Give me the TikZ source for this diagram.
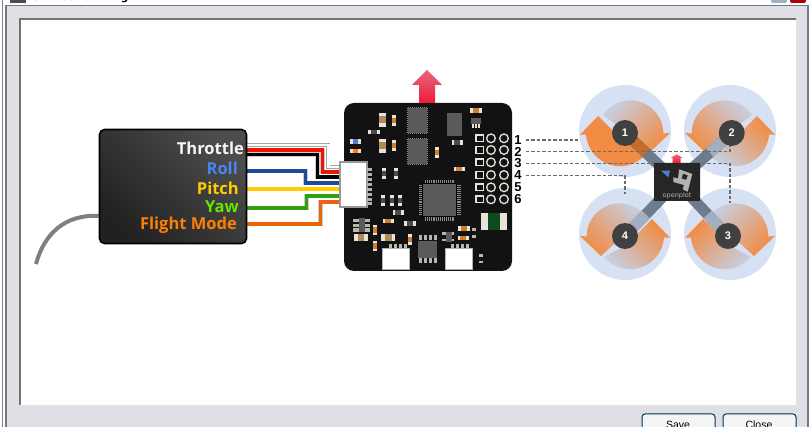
\documentclass[tikz,border=0pt]{standalone}
\usepackage{fontspec}
\setmainfont{DejaVu Sans}
\newfontfamily\arialish{Liberation Sans}
\newfontfamily\rxfont{Open Sans}
\usetikzlibrary{calc,shapes.misc}
\pgfdeclarelayer{back}
\pgfsetlayers{back,main}

\definecolor{winbg}{HTML}{DFDFE5}
\definecolor{pale}{HTML}{D6E1F3}
\definecolor{blade}{HTML}{F28C45}
\definecolor{fade}{HTML}{C6CFE2}
\definecolor{armdark}{HTML}{6D7B8D}
\definecolor{armlight}{HTML}{A3AEC1}
\definecolor{armorange}{HTML}{C46C2C}
\definecolor{tan}{HTML}{B08A5A}
\definecolor{amber}{HTML}{D0802A}
\definecolor{capend}{HTML}{E6E4DA}
\definecolor{chipgray}{HTML}{5A5A5A}
\definecolor{arrowtop}{HTML}{E8687A}
\definecolor{arrowbot}{HTML}{EE1A3C}
\definecolor{txroll}{HTML}{4A86F0}
\definecolor{txpitch}{HTML}{FFCC00}
\definecolor{txyaw}{HTML}{66E600}
\definecolor{txflight}{HTML}{FF7F00}
\definecolor{wblue}{HTML}{1F4A9C}
\definecolor{wgreen}{HTML}{30A010}
\definecolor{worange}{HTML}{EC640A}
\definecolor{wred}{HTML}{EE1500}
\definecolor{btnline}{HTML}{00305F}
\definecolor{logoblue}{HTML}{4D7FD9}
\definecolor{inductor}{HTML}{0F4A1E}

\tikzset{
  rxlabel/.style={font=\rxfont\bfseries\fontsize{16.5}{16.5}\selectfont,anchor=east,inner sep=0pt},
  hub/.style={circle,fill=black!75,text=white,minimum size=26pt,inner sep=0pt,
    font=\arialish\bfseries\fontsize{11}{11}\selectfont},
  pinlabel/.style={font=\arialish\bfseries\fontsize{13}{13}\selectfont,inner sep=1pt},
  wire/.style={line width=3.6pt,draw=#1,preaction={draw=white!80!black,line width=4.8pt}},
  probe/.style={draw=black!58,line width=1.8pt,dash pattern=on 3.5pt off 2pt},
  pins/.style={draw=black!45,line width=1.3pt,dash pattern=on 1pt off 1pt},
  cpupins/.style={draw=black!45,line width=3.5pt,dash pattern=on 1pt off 0.9pt},
  headerpin/.style={draw=capend,line width=1.3pt},
  arm/.style={line width=11pt,draw=#1},
  fadeNW/.style={top color=fade,bottom color=blade,shading angle=45},
  bladeNW/.style={top color=blade,bottom color=fade,shading angle=45},
  fadeNE/.style={top color=fade,bottom color=blade,shading angle=-45},
  bladeNE/.style={top color=blade,bottom color=fade,shading angle=-45},
}

% one rotor: centre x, centre y, mirror, style of lower blade, style of upper blade
\newcommand{\rotorblades}[5]{
  \begin{scope}[shift={(#1,#2)},xscale=#3]
    \path[fill=pale] (-46,0) arc[start angle=180,end angle=-180,radius=46];
    \path[#5] (-22,-16) arc[start angle=214,end angle=360,radius=33] -- (45,2) -- (24,22) -- (0,0) -- cycle;
    \path[#4] (-45,3.7) -- (-27,-15) -- (0,12) -- (21,23)
      arc[start angle=40,end angle=178,radius=34] -- (-39,3.7) -- cycle;
  \end{scope}
}
% surface parts, in board units (3 per pixel)
\newcommand{\smdh}[5]{
  \fill[capend] (#1-#3/2,#2-#4/2) rectangle (#1+#3/2,#2+#4/2);
  \fill[#5] (#1-#3/4,#2-#4/2) rectangle (#1+#3/4,#2+#4/2);
}
\newcommand{\smdv}[5]{
  \fill[capend] (#1-#3/2,#2-#4/2) rectangle (#1+#3/2,#2+#4/2);
  \fill[#5] (#1-#3/2,#2-#4/4) rectangle (#1+#3/2,#2+#4/4);
}
\newcommand{\qfn}[4]{
  \draw[pins] (#1+1,#2-1.5) -- (#3-1,#2-1.5);
  \draw[pins] (#1+1,#4+1.5) -- (#3-1,#4+1.5);
  \draw[pins] (#1-1.5,#2+1) -- (#1-1.5,#4-1);
  \draw[pins] (#3+1.5,#2+1) -- (#3+1.5,#4-1);
  \fill[chipgray] (#1,#2) rectangle (#3,#4);
}

\begin{document}
\begin{tikzpicture}[x=1pt,y=-1pt]
\useasboundingbox (0,0) rectangle (812,427);

% receiver
\node[rounded corners=5pt,draw=black,line width=1.6pt,minimum width=147pt,minimum height=114pt,
  top color=black!70,bottom color=black!87,shading angle=-45] (rx) at (173,186.5) {};
\node[rxlabel,text=white!96!black] (throttle) at (244,148) {Throttle};
\node[rxlabel,text=txroll] (roll) at (238,168) {Roll};
\node[rxlabel,text=txpitch] (pitch) at (239,188) {Pitch};
\node[rxlabel,text=txyaw] (yaw) at (239,207) {Yaw};
\node[rxlabel,text=txflight] (flight) at (237,225) {Flight Mode};

% flight controller board
\node[rounded corners=10pt,fill=black!93,minimum width=168pt,minimum height=168pt,inner sep=0pt] (board) at (428,187) {};
\node[fill=white,draw=black!40,line width=1.4pt,minimum width=27pt,minimum height=45pt,inner sep=0pt] (conn) at (353.5,184.5) {};

\begin{scope}[shift={(335,60)},x=0.3333pt,y=-0.3333pt]
  \qfn{219}{143}{277}{220}
  \qfn{219}{236}{277}{312}
  \fill[chipgray] (337,160) rectangle (380,228);
  % main processor
  \draw[cpupins] (270,364) -- (358,364);
  \draw[cpupins] (270,477) -- (358,477);
  \draw[cpupins] (256,376) -- (256,465);
  \draw[cpupins] (372,376) -- (372,465);
  \draw[fill=chipgray,draw=black,line width=0.8pt] (263,370) rectangle (365,470);
  % capacitors and resistors
  \foreach \x/\y in {143/180,143/257}{\smdv{\x}{\y}{22}{42}{tan}}
  \foreach \x/\y in {177/181,177/257,306/277,120/510,120/558,226/538}{\smdv{\x}{\y}{12}{32}{amber}}
  \foreach \x/\y in {147/340,184/340,145/422,170/422,195/422}{\smdv{\x}{\y}{12}{32}{black!70}}
  \foreach \x/\y in {117/216,367/248,190/458,225/491}{\smdh{\x}{\y}{34}{13}{black!70}}
  \foreach \x/\y in {423/152,373/328,160/484,387/506,385/534}{\smdh{\x}{\y}{34}{13}{amber}}
  \foreach \x/\y in {78/534,160/534}{\smdh{\x}{\y}{42}{21}{tan}}
  \smdh{62}{245}{33}{13}{logoblue}
  \smdh{62}{274}{33}{13}{txflight}
  \foreach \x/\y in {418/508,418/530,437/587,437/606}{\fill[capend!80!black] (\x-6,\y-4) rectangle (\x+6,\y+4);}
  % small regulators
  \foreach \x in {414,423,432}{\fill[capend] (\x-3,193) rectangle (\x+3,204);}
  \fill[chipgray] (408,175) rectangle (438,192);
  \foreach \y in {482,497,510}{\fill[capend!80!black] (55,\y-5) rectangle (105,\y+5);}
  \fill[chipgray] (71,474) rectangle (90,517);
  \foreach \y in {520,540}{\fill[capend!80!black] (322,\y-4) rectangle (358,\y+4);}
  \fill[chipgray] (332,516) rectangle (350,547);
  % eight pin part
  \foreach \x in {257,272,287,301}{\fill[capend!80!black] (\x-5,526) rectangle (\x+5,540);
    \fill[capend!80!black] (\x-5,594) rectangle (\x+5,608);}
  \fill[chipgray] (248,542) rectangle (307,593);
  % connector pins
  \foreach \y in {330,345,360,375,390,405,420,432}{\fill[black!30] (96,\y-5) rectangle (112,\y+4);}
  \foreach \x in {167,182,197,212,352,367,382,397}{\fill[capend!80!black] (\x-5,552) rectangle (\x+5,564);}
  % servo connectors
  \foreach \x in {143,330}{\draw[fill=white,draw=black!30,line width=0.8pt] (\x,565) rectangle (\x+81,627);}
  % output header
  \foreach \y in {235,270,307,345,382,418}{
    \draw[headerpin] (423,\y-10) rectangle (445,\y+10);
    \draw[headerpin] (468,\y) circle[radius=13];
    \draw[headerpin] (507,\y) circle[radius=13];}
  % inductor
  \fill[capend] (437,460) rectangle (517,510);
  \fill[inductor] (460,460) rectangle (495,510);
\end{scope}

\node[pinlabel] (n1) at (518,140) {1};
\node[pinlabel] (n2) at (518,151.5) {2};
\node[pinlabel] (n3) at (518,163.5) {3};
\node[pinlabel] (n4) at (518,175.5) {4};
\node[pinlabel] (n5) at (518,187) {5};
\node[pinlabel] (n6) at (518,199) {6};

% up arrow of the board
\shade[top color=arrowtop,bottom color=arrowbot] (427,70) -- (442,85) -- (435,85) -- (435,103)
  -- (419,103) -- (419,85) -- (412,85) -- cycle;

% quad centre and motors
\node[hub] (h1) at (625,133) {1};
\node[hub] (h2) at (731.7,133) {2};
\node[hub] (h3) at (728,236) {3};
\node[hub] (h4) at (625,236) {4};
\node[chamfered rectangle,chamfered rectangle xsep=4pt,chamfered rectangle ysep=4pt,fill=black!85,
  minimum width=46pt,minimum height=38pt,inner sep=0pt] (body) at (677,182) {};
\fill[logoblue] (661,170.7) -- (670,170.7) -- (668.3,177.3) -- cycle;
\fill[black!30,even odd rule] (679.3,169.3) -- (692.3,174) -- (687.7,191.7) -- (682.7,189.3) -- (684,185)
  -- (673.3,182) -- (673.3,177.3) -- (678,178.5) -- cycle
  (683,173.5) -- (688,175.5) -- (686,180) -- (681.5,178.5) -- cycle;
\node[text=black!30,inner sep=0pt,font=\fontsize{6.5}{6.5}\selectfont] (brand) at (677,196) {openplot};
\shade[top color=arrowtop,bottom color=arrowbot] (676.7,154.3) -- (682.7,158) -- (680.7,158) -- (680.7,163)
  -- (672.7,163) -- (672.7,158) -- (670.7,158) -- cycle;

\begin{pgfonlayer}{back}
  % window frame
  \fill[white] (0,0) rectangle (812,427);
  \fill[winbg] (6,6) rectangle (808,427);
  \draw[black!50] (2,0) -- (2,427);
  \draw[armdark,line width=1.5pt] (6,427) -- (6,5.5) -- (808,5.5) -- (808,427);
  \fill[black!70] (10,0) rectangle (26,3);
  \node[anchor=base west,inner sep=0pt,font=\bfseries\fontsize{10.5}{10.5}\selectfont] (title) at (31,1) {Connection Diagram};
  \fill[armlight,rounded corners=2pt] (771,-4) rectangle (787,3);
  \fill[red!70!black,rounded corners=2pt] (790,-4) rectangle (806,3);
  \fill[white] (20,19) rectangle (796,405);
  \draw[black!55,line width=1.6pt] (20,405) -- (20,19) -- (796,19);
  \draw[capend] (796,19) -- (796,405) -- (20,405);
  \draw[draw=btnline,fill=white!96!black,rounded corners=3pt,line width=1pt] (642,414) rectangle (715,440);
  \draw[draw=btnline,fill=white!96!black,rounded corners=3pt,line width=1pt] (723,414) rectangle (796,440);
  \node[inner sep=0pt,font=\arialish\fontsize{10.5}{10.5}\selectfont] (save) at (678,425) {Save};
  \node[inner sep=0pt,font=\arialish\fontsize{10.5}{10.5}\selectfont] (close) at (759,425) {Close};

  % antenna
  \coordinate (tip) at (36,264);
  \draw[black!50,line width=4pt] (rx.west |- 0,216) .. controls (65,214) and (44,234) .. (tip);

  % receiver wires
  \draw[draw=black!35,double=white,double distance=2.4pt,line width=0.9pt] (rx.east |- 0,145) -- ++(81,0) |- (conn.west |- 0,167);
  \draw[wire=wred] (rx.east |- 0,150) -- ++(75,0) |- (conn.west |- 0,172);
  \draw[wire=black] (rx.east |- 0,154.5) -- ++(70,0) |- (conn.west |- 0,177);
  \draw[wire=wblue] (rx.east |- 0,171) -- ++(58,0) |- (conn.west |- 0,183);
  \draw[wire=txpitch] (rx.east |- 0,189) -- (conn.west |- 0,189);
  \draw[wire=wgreen] (rx.east |- 0,208) -- ++(59,0) |- (conn.west |- 0,196);
  \draw[wire=worange] (rx.east |- 0,224) -- ++(73,0) |- (conn.west |- 0,202);

  % rotors
  \rotorblades{625}{131}{1}{fill=blade}{fadeNW}
  \rotorblades{730}{131}{-1}{bladeNE}{fadeNE}
  \rotorblades{730}{234}{1}{bladeNW}{fadeNW}
  \rotorblades{625}{234}{-1}{bladeNE}{fadeNE}

  % frame arms
  \foreach \m/\c in {h1/armorange,h2/armlight,h3/armlight,h4/armlight}{
    \draw[arm=armdark] (\m.center) -- (body.center);
    \draw[arm=\c] (\m.center) -- ($(\m.center)!0.4!(body.center)$);
  }

  % motor outputs
  \coordinate (e1) at (578,140);
  \coordinate (e2) at (730,146);
  \coordinate (e3) at (730,203);
  \coordinate (e4) at (625,194);
  \draw[probe,shorten <=3pt] (n1.east) -- (e1);
  \draw[probe,shorten <=3pt] (n2.east) -| (e2);
  \draw[probe,shorten <=3pt] (n3.east) -| (e3);
  \draw[probe,shorten <=3pt] (n4.east) -| (e4);
\end{pgfonlayer}
\end{tikzpicture}
\end{document}
